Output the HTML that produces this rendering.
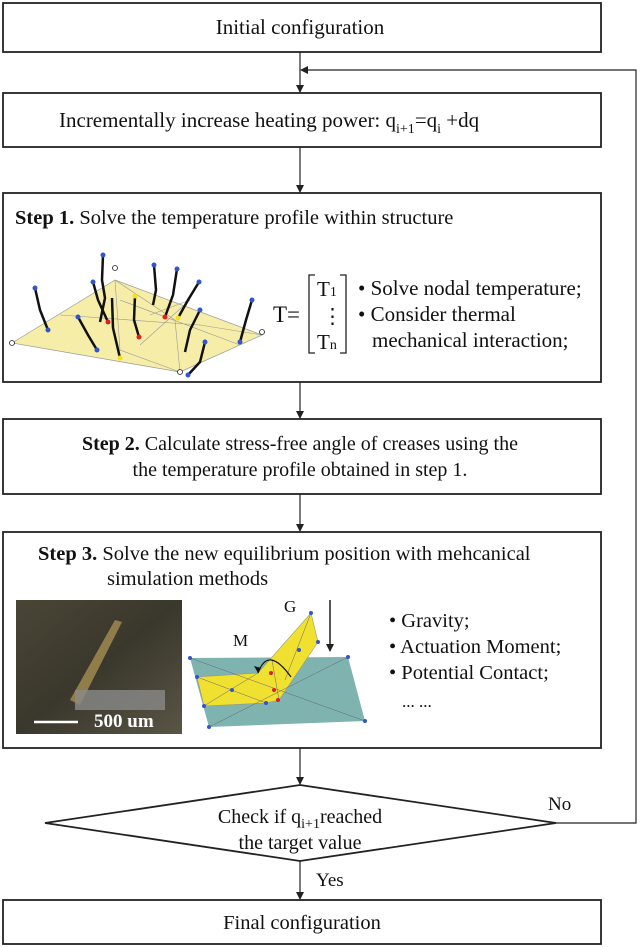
<!DOCTYPE html>
<html><head><meta charset="utf-8"><style>
html,body{margin:0;padding:0;background:#fff}
svg{display:block}
text{font-family:"Liberation Serif",serif;fill:#111}
</style></head><body>
<svg width="640" height="947" viewBox="0 0 640 947" xmlns="http://www.w3.org/2000/svg">
<defs>
<marker id="a" markerWidth="8" markerHeight="8" refX="7" refY="4" orient="auto" markerUnits="userSpaceOnUse"><path d="M0,0 L8,4 L0,8 z" fill="#222"/></marker>
<linearGradient id="sh" x1="0" y1="0" x2="0" y2="1"><stop offset="0" stop-color="#b8a870"/><stop offset="1" stop-color="#f6eda8"/></linearGradient>
<linearGradient id="ph" x1="0" y1="0" x2="1" y2="1"><stop offset="0" stop-color="#4a4636"/><stop offset="0.5" stop-color="#3a372c"/><stop offset="1" stop-color="#5a5646"/></linearGradient>
</defs>
<g fill="none" stroke="#222" stroke-width="1.8">
<rect x="3" y="3" width="598" height="49"/>
<rect x="3" y="93" width="598" height="54"/>
<rect x="3" y="193" width="598" height="189"/>
<rect x="3" y="419" width="598" height="75"/>
<rect x="3" y="532" width="598" height="216"/>
<polygon points="300,785 556,823 300,861 45,823"/>
<rect x="3" y="900" width="598" height="44"/>
</g>
<g stroke="#222" stroke-width="1.2" fill="none">
<line x1="300" y1="52" x2="300" y2="92" marker-end="url(#a)"/>
<line x1="300" y1="147" x2="300" y2="192" marker-end="url(#a)"/>
<line x1="300" y1="382" x2="300" y2="418" marker-end="url(#a)"/>
<line x1="300" y1="494" x2="300" y2="531" marker-end="url(#a)"/>
<line x1="300" y1="748" x2="300" y2="784" marker-end="url(#a)"/>
<line x1="300" y1="861" x2="300" y2="899" marker-end="url(#a)"/>
<polyline points="556,823 636,823 636,70 301,70" marker-end="url(#a)"/>
</g>
<text x="300" y="34" font-size="21" text-anchor="middle">Initial configuration</text>
<text x="59" y="127" font-size="21">Incrementally increase heating power: q<tspan font-size="14" dy="6">i+1</tspan><tspan dy="-6">=q</tspan><tspan font-size="14" dy="6">i</tspan><tspan dy="-6"> +dq</tspan></text>
<text x="15" y="224" font-size="20.5"><tspan font-weight="bold">Step 1.</tspan> Solve the temperature profile within structure</text>
<!-- step1 figure -->
<polygon points="12,343 115,332 180,372 262,335 120,287" fill="url(#sh)"/>
<polygon points="12,343 115,280 262,335 180,372" fill="#f6eda8" stroke="#999" stroke-width="0.7"/>
<g stroke="#999" stroke-width="0.6" fill="none"><path d="M115,280 L120,350 L180,372 M60,315 L200,325 L262,335 M120,300 L240,345 M180,372 L175,320 L115,280 M150,315 L190,300 L140,345"/></g>
<g stroke="#111" stroke-width="2.5" fill="none">
<path d="M35,288 L40,310 L48,330"/><path d="M103,255 L102,280 L105,298 L100,322"/><path d="M93,282 L98,300 L108,322"/><path d="M78,317 L88,335 L97,350"/><path d="M112,298 L113,328 L120,358"/><path d="M135,296 L134,320 L139,337"/><path d="M154,265 L156,290 L153,305"/><path d="M177,269 L173,295 L165,317"/><path d="M199,282 L188,300 L178,318"/><path d="M200,310 L190,330 L185,352"/><path d="M205,342 L200,362 L188,375"/><path d="M252,300 L246,320 L240,342"/>
</g>
<g fill="#3355cc"><circle cx="35" cy="288" r="2.5"/><circle cx="103" cy="255" r="2.5"/><circle cx="93" cy="282" r="2.5"/><circle cx="78" cy="317" r="2.5"/><circle cx="154" cy="265" r="2.5"/><circle cx="177" cy="269" r="2.5"/><circle cx="199" cy="282" r="2.5"/><circle cx="200" cy="310" r="2.5"/><circle cx="205" cy="342" r="2.5"/><circle cx="252" cy="300" r="2.5"/><circle cx="48" cy="330" r="2.5"/><circle cx="97" cy="350" r="2.5"/><circle cx="240" cy="342" r="2.5"/><circle cx="188" cy="375" r="2.5"/></g>
<g fill="#f0e020"><circle cx="120" cy="358" r="2.5"/><circle cx="135" cy="296" r="2.5"/><circle cx="178" cy="318" r="2.5"/></g>
<g fill="#e02020"><circle cx="108" cy="322" r="2.5"/><circle cx="139" cy="337" r="2.5"/><circle cx="165" cy="317" r="2.5"/></g>
<g fill="#fff" stroke="#222" stroke-width="0.8"><circle cx="12" cy="343" r="2.5"/><circle cx="115" cy="268" r="2.5"/><circle cx="262" cy="332" r="2.5"/><circle cx="180" cy="372" r="2.5"/></g>
<text x="273" y="322" font-size="23">T=</text>
<path d="M315,275 h-6 v78 h6 M340,275 h6 v78 h-6" stroke="#222" stroke-width="1.3" fill="none"/>
<text x="317" y="296" font-size="21">T<tspan font-size="14">1</tspan></text>
<text x="322" y="323" font-size="21">⋮</text>
<text x="317" y="349" font-size="21">T<tspan font-size="14">n</tspan></text>
<text x="358" y="295" font-size="21">• Solve nodal temperature;</text>
<text x="358" y="321" font-size="21">• Consider thermal</text>
<text x="372" y="347" font-size="21">mechanical interaction;</text>
<text x="300" y="450" font-size="20" text-anchor="middle"><tspan font-weight="bold">Step 2.</tspan> Calculate stress-free angle of creases using the</text>
<text x="300" y="476" font-size="20" text-anchor="middle">the temperature profile obtained in step 1.</text>
<text x="38" y="560" font-size="20.5"><tspan font-weight="bold">Step 3.</tspan> Solve the new equilibrium position with mehcanical</text>
<text x="107" y="585" font-size="20.5">simulation methods</text>
<!-- photo -->
<rect x="16" y="600" width="166" height="134" fill="url(#ph)"/>
<polygon points="70,700 115,620 122,622 80,705" fill="#a08a50" opacity="0.85"/>
<rect x="75" y="690" width="90" height="20" fill="#8a8a8a" opacity="0.8"/>
<line x1="34" y1="722" x2="78" y2="722" stroke="#fff" stroke-width="2.5"/>
<text x="94" y="727" font-size="19" font-weight="bold" style="fill:#fff">500 um</text>
<!-- step3 fig -->
<polygon points="190,658 348,657 365,721 209,727" fill="#7fb3b0"/>
<polygon points="197,677 258,673 311,613 318,642 279,700 266,703 204,706" fill="#f0e030" stroke="#997" stroke-width="0.6"/>
<g stroke="#667" stroke-width="0.5" fill="none"><path d="M197,677 L266,703 M258,673 L230,690 L204,706 M272,660 L279,700 M311,613 L285,680 M190,658 L365,721 M348,657 L209,727"/></g>
<path d="M258,673 Q268,645 291,677" stroke="#111" stroke-width="1.2" fill="none"/>
<path d="M258,673 l-4,-7 l7,2 z" fill="#111"/>
<line x1="330" y1="600" x2="330" y2="651" stroke="#111" stroke-width="1.4" marker-end="url(#a)"/>
<text x="284" y="612" font-size="17">G</text>
<text x="233" y="646" font-size="17">M</text>
<g fill="#3355cc"><circle cx="190" cy="658" r="2"/><circle cx="348" cy="657" r="2"/><circle cx="365" cy="721" r="2"/><circle cx="209" cy="727" r="2"/><circle cx="311" cy="613" r="2"/><circle cx="318" cy="642" r="2"/><circle cx="197" cy="677" r="2"/><circle cx="204" cy="706" r="2"/><circle cx="232" cy="690" r="2"/><circle cx="266" cy="703" r="2"/><circle cx="299" cy="650" r="2"/></g>
<g fill="#e02020"><circle cx="278" cy="700" r="2"/><circle cx="274" cy="690" r="2"/><circle cx="271" cy="673" r="2"/></g>
<text x="389" y="627" font-size="20.5">• Gravity;</text>
<text x="389" y="653" font-size="20.5">• Actuation Moment;</text>
<text x="389" y="679" font-size="20.5">• Potential Contact;</text>
<text x="402" y="707" font-size="17">... ...</text>
<text x="300" y="823" font-size="20" text-anchor="middle">Check if q<tspan font-size="14" dy="5">i+1</tspan><tspan dy="-5">reached</tspan></text>
<text x="300" y="849" font-size="20" text-anchor="middle">the target value</text>
<text x="548" y="810" font-size="19">No</text>
<text x="316" y="886" font-size="19">Yes</text>
<text x="302" y="929" font-size="20.5" text-anchor="middle">Final configuration</text>
</svg>
</body></html>
